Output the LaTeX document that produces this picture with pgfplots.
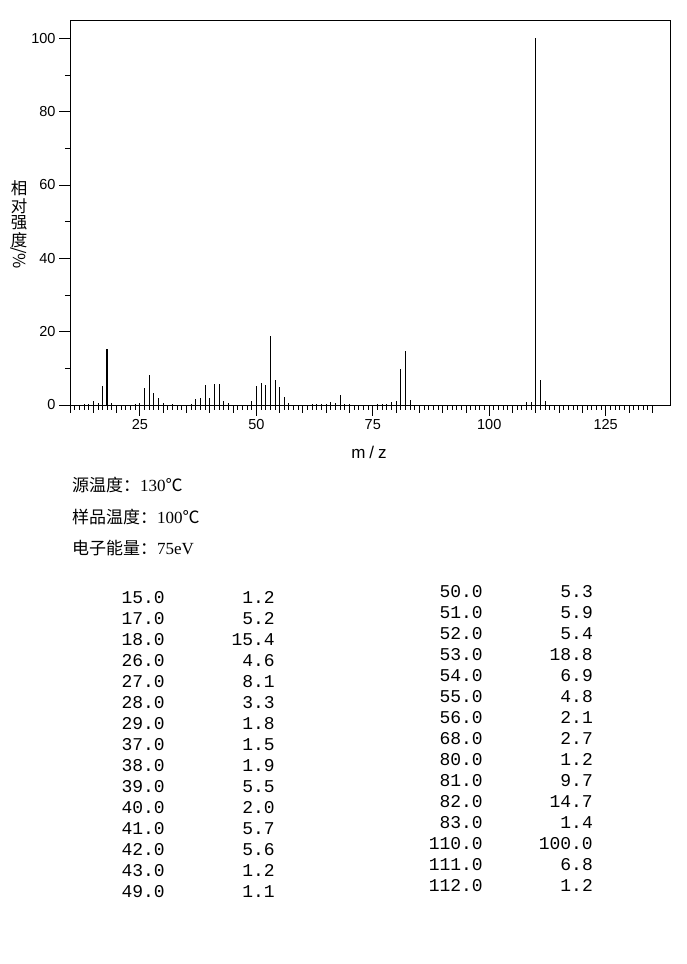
\documentclass[border=0pt]{standalone}
\usepackage{pgfplots}
\pgfplotsset{compat=1.18}
\usepackage{fontspec}
\newfontfamily\cjk{Noto Sans CJK SC}
\newfontfamily\sans{Liberation Sans}
\newfontfamily\mono{Liberation Mono}
\newfontfamily\serif{Liberation Serif}
\begin{document}
\begin{tikzpicture}[x=1pt,y=1pt]
\path[use as bounding box] (0,0) rectangle (686,964);
\begin{axis}[
  at={(70pt,559pt)}, anchor=south west,
  scale only axis, width=600pt, height=385pt,
  xmin=10, xmax=138.8, ymin=0, ymax=105,
  axis line style={line width=0.9pt, black},
  tick align=outside,
  xtick pos=lower, ytick pos=left,
  xtick={25,50,75,100,125},
  minor xtick={10,11,...,135},
  extra x ticks={10,15,20,30,35,40,45,55,60,65,70,80,85,90,95,105,110,115,120,130,135},
  extra x tick labels={},
  extra x tick style={major tick length=8pt},
  ytick={0,20,40,60,80,100},
  minor ytick={10,30,50,70,90},
  major tick length=11pt, minor tick length=5pt,
  tick style={line width=0.9pt, black},
  ticklabel style={font=\sans\fontsize{14.5}{14.5}\selectfont},
  /pgf/number format/assume math mode=true,
  clip=false,
]
\addplot[ycomb, black, line width=0.9pt, mark=none] coordinates {
(13,0.4) (14,0.4) (15,1.2) (16,0.5) (17,5.2) (18,15.4) (19,0.5)
(24,0.4) (25,0.5) (26,4.6) (27,8.1) (28,3.3) (29,1.8) (30,0.6)
(32,0.4) (36,0.4) (37,1.5) (38,1.9) (39,5.5) (40,2.0) (41,5.7)
(42,5.6) (43,1.2) (44,0.5) (49,1.1) (50,5.3) (51,5.9) (52,5.4)
(53,18.8) (54,6.9) (55,4.8) (56,2.1) (57,0.6) (62,0.4) (63,0.4)
(64,0.4) (65,0.4) (66,0.8) (67,0.5) (68,2.7) (69,0.4) (70,0.3)
(76,0.3) (77,0.3) (78,0.4) (79,0.8) (80,1.2) (81,9.7) (82,14.7)
(83,1.4) (108,0.7) (109,0.8) (110,100.0) (111,6.8) (112,1.2)
};
\addplot[ycomb, black, line width=2pt, mark=none] coordinates {(18,15.4)};
\end{axis}
% axis labels
\node[font=\sans\fontsize{17}{17}\selectfont, inner sep=0] at (369,512) {m\hspace{4pt}/\hspace{4pt}z};
\begin{scope}[every node/.style={font=\cjk\fontsize{16.5}{16.5}\selectfont, inner sep=0}]
\node at (19,775.5) {相};
\node at (19,758) {对};
\node at (19,741) {强};
\node at (19,724) {度};
\node[rotate=-90] at (19,706) {/\%};
\end{scope}
% info lines
\node[anchor=base west, inner sep=0, font=\cjk\fontsize{17}{17}\selectfont] at (72,472) {源温度：{\serif 130}℃};
\node[anchor=base west, inner sep=0, font=\cjk\fontsize{17}{17}\selectfont] at (72,440) {样品温度：{\serif 100}℃};
\node[anchor=base west, inner sep=0, font=\cjk\fontsize{17}{17}\selectfont] at (72,409) {电子能量：{\serif 75eV}};
% data table
\foreach \m/\v [count=\k from 0] in {15.0/1.2,17.0/5.2,18.0/15.4,26.0/4.6,27.0/8.1,28.0/3.3,29.0/1.8,37.0/1.5,38.0/1.9,39.0/5.5,40.0/2.0,41.0/5.7,42.0/5.6,43.0/1.2,49.0/1.1}{
  \node[anchor=base east, inner sep=0, font=\mono\fontsize{18}{18}\selectfont] at (165,{360.7-21*\k}) {\m};
  \node[anchor=base east, inner sep=0, font=\mono\fontsize{18}{18}\selectfont] at (275,{360.7-21*\k}) {\v};
}
\foreach \m/\v [count=\k from 0] in {50.0/5.3,51.0/5.9,52.0/5.4,53.0/18.8,54.0/6.9,55.0/4.8,56.0/2.1,68.0/2.7,80.0/1.2,81.0/9.7,82.0/14.7,83.0/1.4,110.0/100.0,111.0/6.8,112.0/1.2}{
  \node[anchor=base east, inner sep=0, font=\mono\fontsize{18}{18}\selectfont] at (483,{366.7-21*\k}) {\m};
  \node[anchor=base east, inner sep=0, font=\mono\fontsize{18}{18}\selectfont] at (593,{366.7-21*\k}) {\v};
}
\end{tikzpicture}
\end{document}
